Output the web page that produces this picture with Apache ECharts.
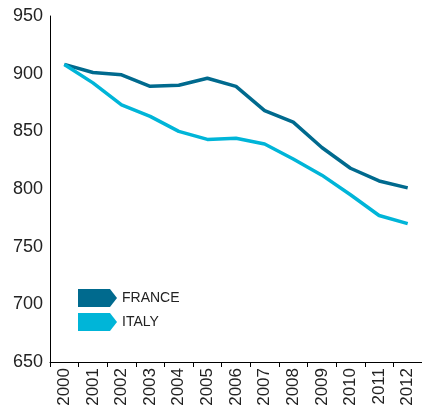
<!DOCTYPE html>
<html>
<head>
    <meta charset="utf-8">
    <title>France / Italy</title>
    <script type="text/javascript" src="https://cdn.jsdelivr.net/npm/echarts@6/dist/echarts.min.js"></script>
    <style>
        html, body { margin: 0; padding: 0; background: #fff; }
    </style>
</head>
<body>
	<div id="main" style="height:412px; width:422px;"></div>
	<script type="text/javascript">
	var years = ['2000', '2001', '2002', '2003', '2004', '2005', '2006',
	             '2007', '2008', '2009', '2010', '2011', '2012'];
	var france = [908, 901, 899, 889, 890, 896, 889, 868, 858, 836, 818, 807, 801];
	var italy = [908, 892, 873, 863, 850, 843, 844, 839, 826, 812, 795, 777, 770];
	var seriesNames = ['FRANCE', 'ITALY'];
	var seriesColors = ['#006a8e', '#00b5d8'];

	var myChart = echarts.init(document.getElementById('main'));
	// arrow shaped legend marker
	var arrowIcon = 'path://M0,0 L32,0 L39,9 L32,18 L0,18 Z';

	var option = {
	    animation: false,
	    textStyle: {fontFamily: 'Liberation Sans, Arial, sans-serif'},
	    grid: {left: 50, right: -3, top: 16, bottom: 50},
	    legend: {
	        orient: 'vertical',
	        left: 73,
	        top: 284,
	        itemWidth: 39,
	        itemHeight: 18,
	        itemGap: 6,
	        textStyle: {fontSize: 14, color: '#222'},
	        data: [
	            {name: seriesNames[0], icon: arrowIcon},
	            {name: seriesNames[1], icon: arrowIcon}
	        ]
	    },
	    xAxis: {
	        type: 'category',
	        boundaryGap: true,
	        data: years,
	        axisLine: {lineStyle: {color: '#000', width: 1}},
	        axisTick: {show: true, length: 5, lineStyle: {color: '#000'}},
	        axisLabel: {rotate: 90, fontSize: 17, color: '#222', margin: 6, interval: 0},
	        splitLine: {show: false}
	    },
	    yAxis: {
	        type: 'value',
	        min: 650,
	        max: 950,
	        interval: 50,
	        axisLine: {show: true, lineStyle: {color: '#000', width: 1}},
	        axisTick: {show: false},
	        axisLabel: {fontSize: 18, color: '#222', margin: 7},
	        splitLine: {show: false}
	    },
	    series: [
	        {
	            name: seriesNames[0],
	            type: 'line',
	            data: france,
	            symbol: 'none',
	            color: seriesColors[0],
	            lineStyle: {width: 3.5, color: seriesColors[0]}
	        },
	        {
	            name: seriesNames[1],
	            type: 'line',
	            data: italy,
	            symbol: 'none',
	            color: seriesColors[1],
	            lineStyle: {width: 3.5, color: seriesColors[1]}
	        }
	    ]
	};
	myChart.setOption(option);
	</script>
</body>
</html>
